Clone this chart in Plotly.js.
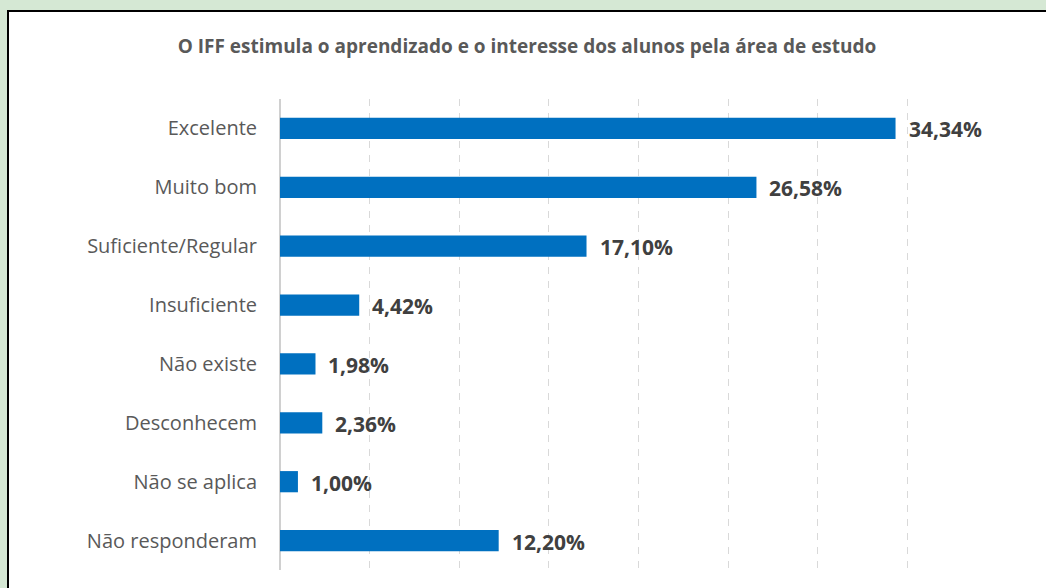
<!DOCTYPE html>
<html><head><meta charset="utf-8">
<script src="https://cdn.plot.ly/plotly-3.0.1.min.js"></script>
<style>
html,body{margin:0;padding:0;background:#d5e8d4;width:1046px;height:588px;overflow:hidden;}
#frame{position:absolute;left:7px;top:10px;width:1037px;height:576px;border-left:2px solid #000;border-top:2px solid #000;background:#fff;}
#chart{width:1037px;height:576px;}
</style></head>
<body><div id="frame"><div id="chart"></div></div>
<script>
const chartTitle = "O IFF estimula o aprendizado e o interesse dos alunos pela área de estudo";
const categories = ["Excelente","Muito bom","Suficiente/Regular","Insuficiente","Não existe","Desconhecem","Não se aplica","Não responderam"];
const values = [34.34, 26.58, 17.10, 4.42, 1.98, 2.36, 1.00, 12.20];
const xTicks = [0,5,10,15,20,25,30,35,40];

const fmt = v => v.toFixed(2).replace('.', ',') + '%';
const font = "'Open Sans', 'Noto Sans', sans-serif";

const trace = {
  type: 'bar', orientation: 'h',
  x: values, y: categories,
  marker: {color: '#0070c0'},
  hoverinfo: 'none'
};
const annotations = values.map((v,i)=>({
  x: v, y: categories[i], xref:'x', yref:'y', text: fmt(v), showarrow:false,
  xanchor:'left', xshift: 11, yshift: -1,
  font:{family:font, size:21, color:'#404040', weight:700}
}));
const layout = {
  width:1037, height:576,
  margin:{l:271, r:49, t:87, b:18},
  paper_bgcolor:'#ffffff', plot_bgcolor:'#ffffff',
  title:{text: chartTitle, x:0.4995, xanchor:'center', y:0.94, yanchor:'middle',
    font:{family:font, size:19, color:'#595959', weight:700}},
  bargap:0.64,
  showlegend:false,
  xaxis:{range:[0,40], tickvals:xTicks, showticklabels:false, ticks:'',
    showgrid:true, gridcolor:'#d9d9d9', gridwidth:1.2, griddash:'7px,7px',
    zeroline:true, zerolinecolor:'#d0d0d0', zerolinewidth:1.5, showline:false, fixedrange:true},
  yaxis:{autorange:'reversed', categoryorder:'array', categoryarray:categories,
    tickfont:{family:font, size:20, color:'#595959'}, ticks:'', ticklabelstandoff:22,
    showgrid:false, zeroline:false, showline:false, fixedrange:true},
  annotations: annotations
};
Plotly.newPlot('chart',[trace],layout,{displayModeBar:false, staticPlot:true});
</script></body></html>
